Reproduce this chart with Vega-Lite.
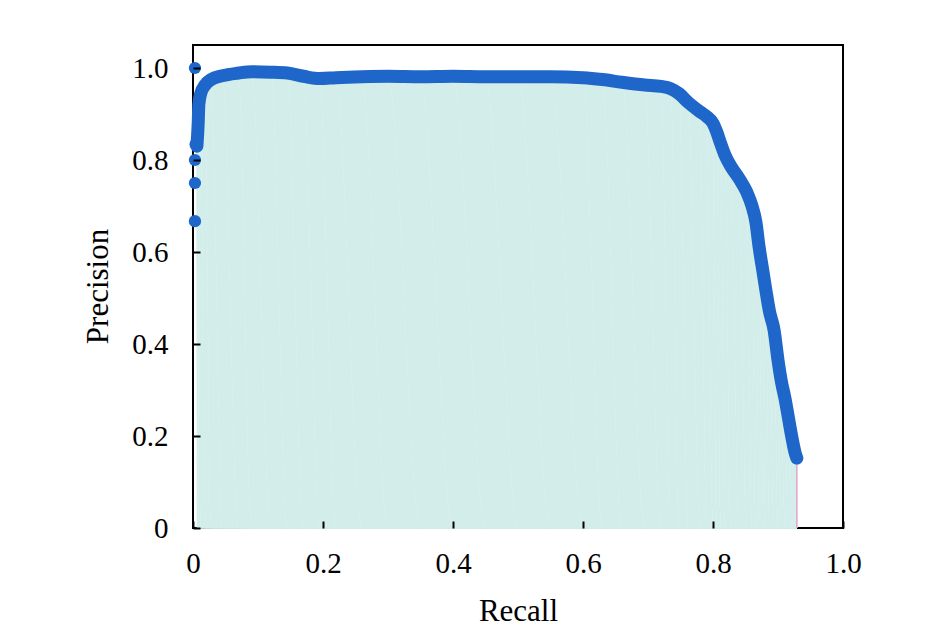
{
  "$schema": "https://vega.github.io/schema/vega-lite/v6.json",
  "autosize": "none",
  "width": 650,
  "height": 483,
  "padding": {"left": 193, "top": 45, "right": 102, "bottom": 102},
  "background": "white",
  "config": {
    "font": "Liberation Serif",
    "view": {"stroke": "black", "strokeWidth": 2}
  },
  "datasets": {
    "curve": [
      {"i": 0, "recall": 0.006, "precision": 0.83},
      {"i": 1, "recall": 0.008, "precision": 0.88},
      {"i": 2, "recall": 0.009, "precision": 0.92},
      {"i": 3, "recall": 0.012, "precision": 0.945},
      {"i": 4, "recall": 0.018, "precision": 0.962},
      {"i": 5, "recall": 0.028, "precision": 0.975},
      {"i": 6, "recall": 0.045, "precision": 0.983},
      {"i": 7, "recall": 0.07, "precision": 0.989},
      {"i": 8, "recall": 0.09, "precision": 0.992},
      {"i": 9, "recall": 0.12, "precision": 0.991},
      {"i": 10, "recall": 0.145, "precision": 0.989},
      {"i": 11, "recall": 0.17, "precision": 0.982},
      {"i": 12, "recall": 0.195, "precision": 0.977},
      {"i": 13, "recall": 0.22, "precision": 0.979},
      {"i": 14, "recall": 0.26, "precision": 0.981},
      {"i": 15, "recall": 0.3, "precision": 0.982},
      {"i": 16, "recall": 0.35, "precision": 0.981},
      {"i": 17, "recall": 0.4, "precision": 0.982},
      {"i": 18, "recall": 0.45, "precision": 0.981},
      {"i": 19, "recall": 0.5, "precision": 0.981},
      {"i": 20, "recall": 0.55, "precision": 0.981},
      {"i": 21, "recall": 0.6, "precision": 0.979},
      {"i": 22, "recall": 0.63, "precision": 0.975},
      {"i": 23, "recall": 0.66, "precision": 0.969},
      {"i": 24, "recall": 0.695, "precision": 0.963},
      {"i": 25, "recall": 0.72, "precision": 0.96},
      {"i": 26, "recall": 0.735, "precision": 0.955},
      {"i": 27, "recall": 0.748, "precision": 0.944},
      {"i": 28, "recall": 0.762, "precision": 0.925},
      {"i": 29, "recall": 0.78, "precision": 0.905},
      {"i": 30, "recall": 0.79, "precision": 0.895},
      {"i": 31, "recall": 0.8, "precision": 0.88},
      {"i": 32, "recall": 0.806, "precision": 0.86},
      {"i": 33, "recall": 0.812, "precision": 0.835},
      {"i": 34, "recall": 0.818, "precision": 0.812},
      {"i": 35, "recall": 0.828, "precision": 0.785},
      {"i": 36, "recall": 0.84, "precision": 0.76},
      {"i": 37, "recall": 0.852, "precision": 0.73},
      {"i": 38, "recall": 0.86, "precision": 0.7},
      {"i": 39, "recall": 0.866, "precision": 0.665},
      {"i": 40, "recall": 0.871, "precision": 0.61},
      {"i": 41, "recall": 0.876, "precision": 0.565},
      {"i": 42, "recall": 0.881, "precision": 0.52},
      {"i": 43, "recall": 0.887, "precision": 0.47},
      {"i": 44, "recall": 0.894, "precision": 0.43},
      {"i": 45, "recall": 0.9, "precision": 0.365},
      {"i": 46, "recall": 0.905, "precision": 0.32},
      {"i": 47, "recall": 0.911, "precision": 0.28},
      {"i": 48, "recall": 0.916, "precision": 0.24},
      {"i": 49, "recall": 0.921, "precision": 0.2},
      {"i": 50, "recall": 0.927, "precision": 0.16},
      {"i": 51, "recall": 0.929, "precision": 0.152}
    ],
    "dots": [
      {"recall": 0.003, "precision": 1.0},
      {"recall": 0.004, "precision": 0.834},
      {"recall": 0.003, "precision": 0.8},
      {"recall": 0.003, "precision": 0.75},
      {"recall": 0.003, "precision": 0.667}
    ],
    "edge": [
      {"recall": 0.929, "precision": 0.152}
    ]
  },
  "encoding": {
    "x": {
      "field": "recall",
      "type": "quantitative",
      "title": "Recall",
      "scale": {"domain": [0, 1]},
      "axis": {
        "values": [0, 0.2, 0.4, 0.6, 0.8, 1.0],
        "labelExpr": "datum.value == 0 ? '0' : format(datum.value, '.1f')",
        "grid": false,
        "zindex": 2,
        "domain": false,
        "offset": -7,
        "ticks": true,
        "tickColor": "#000000",
        "tickOpacity": 1,
        "tickWidth": 2,
        "tickSize": 7,
        "labelFont": "Liberation Serif",
        "labelFontSize": 29,
        "labelColor": "black",
        "labelPadding": 21,
        "labelFlush": false,
        "titleFont": "Liberation Serif",
        "titleFontSize": 31,
        "titleFontWeight": "normal",
        "titleColor": "black",
        "titleBaseline": "alphabetic",
        "titleY": 99
      }
    },
    "y": {
      "field": "precision",
      "type": "quantitative",
      "title": "Precision",
      "scale": {"domain": [0, 1.05]},
      "axis": {
        "values": [0, 0.2, 0.4, 0.6, 0.8, 1.0],
        "labelExpr": "datum.value == 0 ? '0' : format(datum.value, '.1f')",
        "grid": false,
        "zindex": 2,
        "domain": false,
        "offset": -7,
        "ticks": true,
        "tickColor": "#000000",
        "tickOpacity": 1,
        "tickWidth": 2,
        "tickSize": 7,
        "labelFont": "Liberation Serif",
        "labelFontSize": 29,
        "labelColor": "black",
        "labelPadding": 25,
        "labelFlush": false,
        "titleFont": "Liberation Serif",
        "titleFontSize": 31,
        "titleFontWeight": "normal",
        "titleColor": "black",
        "titleAngle": -90,
        "titleBaseline": "alphabetic",
        "titleX": -93,
        "titleY": 241
      }
    }
  },
  "layer": [
    {
      "data": {"name": "curve"},
      "mark": {"type": "area", "fill": "#d3eeea", "stroke": "#d3eeea", "strokeWidth": 0.5, "opacity": 1, "interpolate": "monotone"},
      "encoding": {"order": {"field": "i"}}
    },
    {
      "data": {"name": "edge"},
      "mark": {"type": "rule", "color": "#e4a3cf", "strokeWidth": 1.5},
      "encoding": {"y2": {"datum": 0}}
    },
    {
      "data": {"name": "curve"},
      "mark": {"type": "line", "color": "#1e66c9", "strokeWidth": 13, "strokeCap": "round", "strokeJoin": "round", "interpolate": "monotone"},
      "encoding": {"order": {"field": "i"}}
    },
    {
      "data": {"name": "dots"},
      "mark": {"type": "circle", "color": "#1e66c9", "opacity": 1, "size": 150}
    }
  ]
}
